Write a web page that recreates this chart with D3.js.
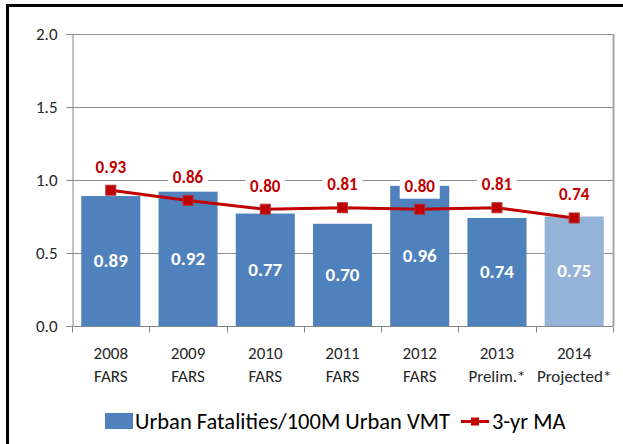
<!DOCTYPE html>
<html>
<head>
<meta charset="utf-8">
<script src="https://cdn.jsdelivr.net/npm/d3@7"></script>
<style>
    body { margin: 0; background: #fff; }
    svg { display: block; font-family: Carlito, Lato, sans-serif; }
</style>
</head>
<body>
<script>
//chart data
var years = ["2008", "2009", "2010", "2011", "2012", "2013", "2014"];
var sources = ["FARS", "FARS", "FARS", "FARS", "FARS", "Prelim.*", "Projected*"];
var fatalityRate = [0.89, 0.92, 0.77, 0.70, 0.96, 0.74, 0.75];
var movingAvg = [0.93, 0.86, 0.80, 0.81, 0.80, 0.81, 0.74];
var yTicks = [0, 0.5, 1.0, 1.5, 2.0];
var legendNames = ["Urban Fatalities/100M Urban VMT", "3-yr MA"];

(function(){

    var width = 623,
        height = 444;

    //plot area edges
    var left = 72,
        right = 613,
        top = 34,
        bottom = 326;

    var svg = d3.select("body")
        .append("svg")
        .attr("width", width)
        .attr("height", height);

    //black frame on top and left
    svg.append("path")
        .attr("d", "M7.5," + height + "V5.5H" + width)
        .attr("fill", "none")
        .attr("stroke", "#000")
        .attr("stroke-width", 3);

    var x = d3.scaleBand()
        .domain(years)
        .range([left, right])
        .paddingInner(0.235)
        .paddingOuter(0.12);

    var y = d3.scaleLinear()
        .domain([0, 2])
        .range([bottom, top]);

    //gridlines
    svg.append("g")
        .selectAll("line")
        .data(yTicks.slice(1))
        .enter()
        .append("line")
        .attr("x1", left)
        .attr("x2", right)
        .attr("y1", function(d){ return Math.round(y(d)) + 0.5; })
        .attr("y2", function(d){ return Math.round(y(d)) + 0.5; })
        .attr("stroke", "#8c8c8c")
        .attr("stroke-width", 1);

    //right border of plot area
    svg.append("line")
        .attr("x1", right + 0.5)
        .attr("x2", right + 0.5)
        .attr("y1", top)
        .attr("y2", bottom)
        .attr("stroke", "#a6a6a6")
        .attr("stroke-width", 2);

    //bars
    svg.selectAll(".bars")
        .data(fatalityRate)
        .enter()
        .append("rect")
        .attr("class", "bars")
        .attr("x", function(d, i){ return x(years[i]); })
        .attr("width", x.bandwidth())
        .attr("y", function(d){ return y(d); })
        .attr("height", function(d){ return bottom - y(d); })
        .style("fill", function(d, i){
            return i == years.length - 1 ? "#95b3d7" : "#4f81bd";
        });

    //y axis
    var yAxis = d3.axisLeft(y)
        .tickValues(yTicks)
        .tickSize(6)
        .tickPadding(9)
        .tickFormat(d3.format(".1f"));

    var yAxisG = svg.append("g")
        .attr("transform", "translate(" + (left + 0.5) + ",0)")
        .call(yAxis);
    yAxisG.select(".domain").attr("stroke", "#868686");
    yAxisG.selectAll(".tick line").attr("stroke", "#868686");
    yAxisG.selectAll(".tick text")
        .attr("fill", "#262626")
        .style("font-size", "17px")
        .style("font-family", "Carlito, Lato, sans-serif");

    //x axis, ticks on category boundaries
    var xAxisG = svg.append("g")
        .attr("transform", "translate(0," + (bottom + 0.5) + ")");
    xAxisG.append("line")
        .attr("x1", left)
        .attr("x2", right)
        .attr("stroke", "#868686");
    xAxisG.selectAll(".xtick")
        .data(d3.range(years.length + 1))
        .enter()
        .append("line")
        .attr("class", "xtick")
        .attr("x1", function(i){ return Math.round(left + i * (right - left) / years.length) + 0.5; })
        .attr("x2", function(i){ return Math.round(left + i * (right - left) / years.length) + 0.5; })
        .attr("y1", 0)
        .attr("y2", 6)
        .attr("stroke", "#868686");

    //category labels, two lines
    var catLabels = svg.selectAll(".catLabel")
        .data(years)
        .enter()
        .append("text")
        .attr("class", "catLabel")
        .attr("text-anchor", "middle")
        .attr("fill", "#262626")
        .style("font-size", "17px");
    catLabels.append("tspan")
        .attr("x", function(d){ return x(d) + x.bandwidth() / 2; })
        .attr("y", 359)
        .text(function(d){ return d; });
    catLabels.append("tspan")
        .attr("x", function(d){ return x(d) + x.bandwidth() / 2; })
        .attr("y", 382)
        .text(function(d, i){ return sources[i]; });

    //bar value labels
    svg.selectAll(".barLabel")
        .data(fatalityRate)
        .enter()
        .append("text")
        .attr("class", "barLabel")
        .attr("text-anchor", "middle")
        .attr("x", function(d, i){ return x(years[i]) + x.bandwidth() / 2; })
        .attr("y", function(d){ return (y(d) + bottom) / 2 + 6; })
        .attr("fill", "#fff")
        .style("font-size", "19px")
        .style("font-weight", "bold")
        .text(function(d){ return d3.format(".2f")(d); });

    //moving average line
    var cx = function(i){ return x(years[i]) + x.bandwidth() / 2; };
    var line = d3.line()
        .x(function(d, i){ return cx(i); })
        .y(function(d){ return y(d); });

    svg.append("path")
        .datum(movingAvg)
        .attr("d", line)
        .attr("fill", "none")
        .attr("stroke", "#c00000")
        .attr("stroke-width", 3);

    svg.selectAll(".marker")
        .data(movingAvg)
        .enter()
        .append("rect")
        .attr("class", "marker")
        .attr("x", function(d, i){ return cx(i) - 5; })
        .attr("y", function(d){ return y(d) - 5; })
        .attr("width", 10)
        .attr("height", 10)
        .attr("fill", "#c00000")
        .attr("stroke", "#b03030")
        .attr("stroke-width", 1);

    //moving average labels with white boxes
    var maLabels = svg.selectAll(".maLabel")
        .data(movingAvg)
        .enter()
        .append("g")
        .attr("class", "maLabel")
        .attr("transform", function(d, i){
            return "translate(" + cx(i) + "," + (y(d) - 17.5) + ")";
        });
    maLabels.append("rect")
        .attr("x", -20)
        .attr("y", -15)
        .attr("width", 40)
        .attr("height", 22)
        .attr("fill", "#fff");
    maLabels.append("text")
        .attr("text-anchor", "middle")
        .attr("fill", "#c00000")
        .style("font-size", "17px")
        .style("font-weight", "bold")
        .text(function(d){ return d3.format(".2f")(d); });

    //legend
    var legend = svg.append("g")
        .attr("class", "legend");
    legend.append("rect")
        .attr("x", 105)
        .attr("y", 413)
        .attr("width", 28)
        .attr("height", 16)
        .attr("fill", "#4f81bd");
    var legendText1 = legend.append("text")
        .attr("x", 135)
        .attr("y", 429)
        .attr("fill", "#000")
        .style("font-size", "22.5px")
        .text(legendNames[0]);

    var lx = 135 + legendText1.node().getComputedTextLength() + 11;
    legend.append("line")
        .attr("x1", lx)
        .attr("x2", lx + 28)
        .attr("y1", 421.5)
        .attr("y2", 421.5)
        .attr("stroke", "#c00000")
        .attr("stroke-width", 3);
    legend.append("rect")
        .attr("x", lx + 10)
        .attr("y", 417.5)
        .attr("width", 8)
        .attr("height", 8)
        .attr("fill", "#c00000");
    legend.append("text")
        .attr("x", lx + 31)
        .attr("y", 429)
        .attr("fill", "#000")
        .style("font-size", "22.5px")
        .text(legendNames[1]);

})();
</script>
</body>
</html>
